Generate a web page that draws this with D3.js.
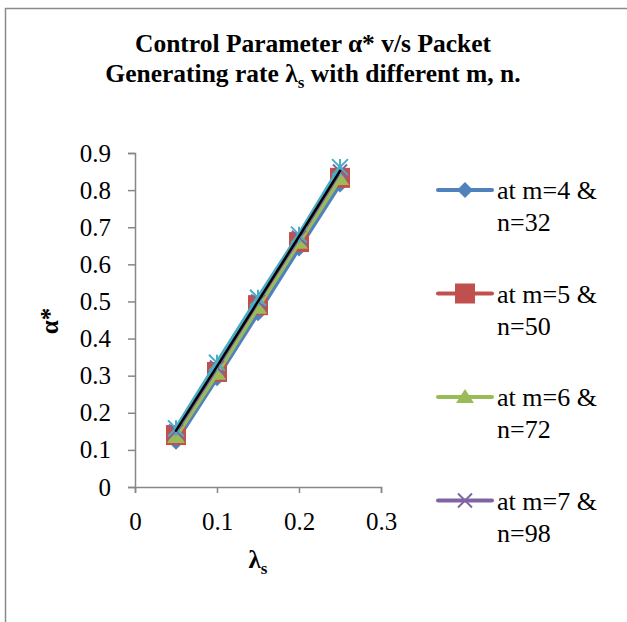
<!DOCTYPE html>
<html>
<head>
<meta charset="utf-8">
<script src="https://cdn.jsdelivr.net/npm/d3@7"></script>
<style>
  body { margin: 0; background: #fff; }
  svg text { font-family: "Liberation Serif", "Times New Roman", serif; fill: #000; }
</style>
</head>
<body>
<div id="chart"></div>
<script>
// data
var lambdaS = [0.05, 0.1, 0.15, 0.2, 0.25];
var seriesNames = ["at m=4 & n=32", "at m=5 & n=50", "at m=6 & n=72", "at m=7 & n=98", "at m=8 & n=128", "trend"];
var alphaM4 = [0.122, 0.293, 0.468, 0.643, 0.815];
var alphaM5 = [0.140, 0.310, 0.490, 0.660, 0.833];
var alphaM6 = [0.135, 0.305, 0.483, 0.658, 0.830];
var alphaM7 = [0.150, 0.322, 0.500, 0.672, 0.850];
var alphaM8 = [0.158, 0.335, 0.510, 0.680, 0.862];
var alphaLine = [0.152, 0.325, 0.500, 0.675, 0.852];
var xTicks = [0, 0.1, 0.2, 0.3];
var yTicks = [0, 0.1, 0.2, 0.3, 0.4, 0.5, 0.6, 0.7, 0.8, 0.9];

var svgWidth = 627;
var svgHeight = 622;
var margin = { top: 153, left: 135 };
var width = 246;   // 0 -> 0.3
var height = 334;  // 0 -> 0.9

var svg = d3.select("#chart")
  .append("svg")
  .attr("width", svgWidth)
  .attr("height", svgHeight)
  .attr("font-family", "Liberation Serif");

// outer chart frame (runs off the right/bottom edge)
svg.append("rect")
  .attr("x", 5.5).attr("y", 8.5)
  .attr("width", 700).attr("height", 700)
  .attr("fill", "none")
  .attr("stroke", "#8a8a8a")
  .attr("stroke-width", 1.5);

// title
var title = svg.append("text")
  .attr("text-anchor", "middle")
  .attr("font-weight", "bold")
  .attr("font-size", "25.5px");
title.append("tspan").attr("x", 313).attr("y", 52).text("Control Parameter α* v/s Packet");
var t2 = title.append("tspan").attr("x", 313).attr("y", 82);
t2.append("tspan").text("Generating rate λ");
t2.append("tspan").attr("font-size", "17px").attr("dy", 6).text("s");
t2.append("tspan").attr("dy", -6).text(" with different m, n.");

var chartGroup = svg.append("g")
  .attr("transform", `translate(${margin.left}, ${margin.top})`);

var xScale = d3.scaleLinear().domain([0, 0.3]).range([0, width]);
var yScale = d3.scaleLinear().domain([0, 0.9]).range([height, 0]);

var xAxis = d3.axisBottom(xScale).tickValues(xTicks).tickSize(6).tickPadding(19)
  .tickFormat(d => d === 0 ? "0" : d3.format(".1f")(d));
var yAxis = d3.axisLeft(yScale).tickValues(yTicks).tickSize(7).tickPadding(17)
  .tickFormat(d => d === 0 ? "0" : d3.format(".1f")(d));

var gx = chartGroup.append("g")
  .attr("transform", `translate(0, ${height})`)
  .call(xAxis);
var gy = chartGroup.append("g").call(yAxis);

[gx, gy].forEach(function(g) {
  g.attr("font-family", "Liberation Serif");
  g.selectAll("path, line").attr("stroke", "#878787").attr("stroke-width", 1.5);
  g.selectAll("text").attr("font-size", "25px");
});

// axis titles
svg.append("text")
  .attr("transform", "translate(58, 321) rotate(-90)")
  .attr("text-anchor", "middle")
  .attr("font-weight", "bold")
  .attr("font-size", "25px")
  .text("α*");

var xl = svg.append("text")
  .attr("x", 258).attr("y", 568)
  .attr("text-anchor", "middle")
  .attr("font-weight", "bold")
  .attr("font-size", "25px");
xl.append("tspan").text("λ");
xl.append("tspan").attr("font-size", "17px").attr("dy", 6).text("s");

// series
var colors = ["#4F81BD", "#C0504D", "#9BBB59", "#8064A2", "#4BACC6", "#000000"];
var symbols = ["diamond", "square", "triangle", "x", "star", null];
var allSeries = [alphaM4, alphaM5, alphaM6, alphaM7, alphaM8, alphaLine];

var line = d3.line()
  .x((d, i) => xScale(lambdaS[i]))
  .y(d => yScale(d));

function drawMarker(g, type, color) {
  if (type === "diamond") {
    g.append("path").attr("d", "M0,-8L8,0L0,8L-8,0Z").attr("fill", color);
  } else if (type === "square") {
    g.append("rect").attr("x", -10).attr("y", -10).attr("width", 20).attr("height", 20)
      .attr("fill", color);
  } else if (type === "triangle") {
    g.append("path").attr("d", "M0,-8L9,6L-9,6Z").attr("fill", color);
  } else if (type === "x") {
    g.append("path").attr("d", "M-7,-7L7,7M-7,7L7,-7").attr("stroke", color).attr("stroke-width", 2);
  } else if (type === "star") {
    g.append("path").attr("d", "M-8,-8L8,8M-8,8L8,-8M0,-8L0,8").attr("stroke", color).attr("stroke-width", 2);
  }
}

allSeries.forEach(function(vals, s) {
  var sg = chartGroup.append("g");
  sg.append("path")
    .datum(vals)
    .attr("d", line)
    .attr("fill", "none")
    .attr("stroke", colors[s])
    .attr("stroke-width", s === 5 ? 2.5 : 4)
    .attr("stroke-linecap", "round");
  if (symbols[s]) {
    sg.selectAll("g.pt")
      .data(vals)
      .enter()
      .append("g")
      .attr("transform", (d, i) => `translate(${xScale(lambdaS[i])}, ${yScale(d)})`)
      .each(function() { drawMarker(d3.select(this), symbols[s], colors[s]); });
  }
});

// legend (only the first four entries fit)
var legend = svg.append("g");
[0, 1, 2, 3].forEach(function(s) {
  var y0 = 190 + s * 103.5;
  var lg = legend.append("g");
  lg.append("line")
    .attr("x1", 438).attr("x2", 492).attr("y1", y0).attr("y2", y0)
    .attr("stroke", colors[s]).attr("stroke-width", 4).attr("stroke-linecap", "round");
  var m = lg.append("g").attr("transform", `translate(465, ${y0})`);
  drawMarker(m, symbols[s], colors[s]);
  var parts = seriesNames[s].split(" & ");
  var txt = lg.append("text").attr("font-size", "26px");
  txt.append("tspan").attr("x", 497).attr("y", y0 + 9).text(parts[0] + " &");
  txt.append("tspan").attr("x", 497).attr("y", y0 + 41).text(parts[1]);
});
</script>
</body>
</html>
